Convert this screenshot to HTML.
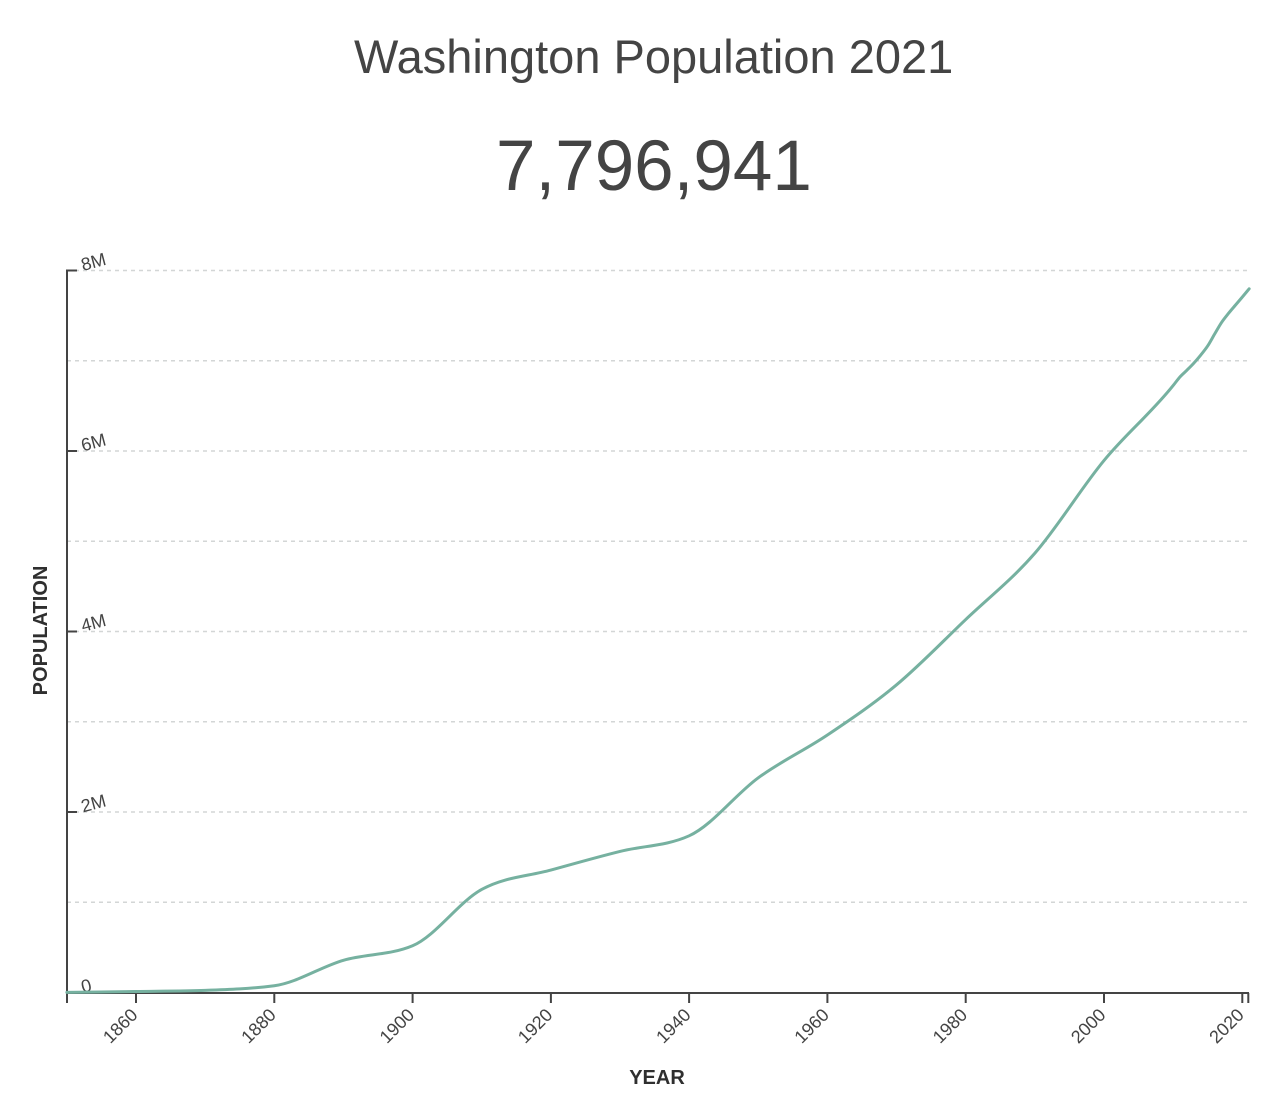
<!DOCTYPE html>
<html>
<head>
<meta charset="utf-8">
<style>
  html, body { margin:0; padding:0; background:#fff; }
  body { width:1270px; height:1098px; overflow:hidden; }
  svg { display:block; }
  .t { font-family:"Liberation Sans", Arial, Helvetica, sans-serif; }
</style>
</head>
<body>
<svg id="chart" width="1270" height="1098" viewBox="0 0 1270 1098" xmlns="http://www.w3.org/2000/svg">
  <rect width="1270" height="1098" fill="#fff"/>
  <!-- Title -->
  <text class="t" x="354" y="73" font-size="47" fill="#444">Washington Population 2021</text>
  <text class="t" x="496" y="190" font-size="71" fill="#444">7,796,941</text>

  <!-- Gridlines -->
  <g stroke="#d3d6d6" stroke-width="1.5" stroke-dasharray="4,4" fill="none">
    <line x1="67" x2="1248" y1="902.25" y2="902.25"/>
    <line x1="67" x2="1248" y1="812" y2="812"/>
    <line x1="67" x2="1248" y1="721.75" y2="721.75"/>
    <line x1="67" x2="1248" y1="631.5" y2="631.5"/>
    <line x1="67" x2="1248" y1="541.25" y2="541.25"/>
    <line x1="67" x2="1248" y1="451" y2="451"/>
    <line x1="67" x2="1248" y1="360.75" y2="360.75"/>
    <line x1="67" x2="1248" y1="270.5" y2="270.5"/>
  </g>

  <!-- Y axis -->
  <g stroke="#444" stroke-width="2" fill="none">
    <line x1="67" x2="67" y1="269.5" y2="1003"/>
    <line x1="66" x2="77" y1="270.5" y2="270.5"/>
    <line x1="66" x2="77" y1="451" y2="451"/>
    <line x1="66" x2="77" y1="631.5" y2="631.5"/>
    <line x1="66" x2="77" y1="812" y2="812"/>
    <line x1="66" x2="77" y1="992.5" y2="992.5"/>
  </g>
  <g class="t" font-size="18" fill="#444">
    <text x="83" y="271" transform="rotate(-15 83 271)">8M</text>
    <text x="83" y="451.5" transform="rotate(-15 83 451.5)">6M</text>
    <text x="83" y="632" transform="rotate(-15 83 632)">4M</text>
    <text x="83" y="812.5" transform="rotate(-15 83 812.5)">2M</text>
    <text x="83" y="993" transform="rotate(-15 83 993)">0</text>
  </g>

  <!-- X axis -->
  <g stroke="#444" stroke-width="2" fill="none">
    <line x1="66" x2="1249" y1="993" y2="993"/>
    <line x1="67" x2="67" y1="993" y2="1003"/>
    <line x1="136" x2="136" y1="993" y2="1003"/>
    <line x1="274.3" x2="274.3" y1="993" y2="1003"/>
    <line x1="412.6" x2="412.6" y1="993" y2="1003"/>
    <line x1="550.9" x2="550.9" y1="993" y2="1003"/>
    <line x1="689.1" x2="689.1" y1="993" y2="1003"/>
    <line x1="827.4" x2="827.4" y1="993" y2="1003"/>
    <line x1="965.7" x2="965.7" y1="993" y2="1003"/>
    <line x1="1104" x2="1104" y1="993" y2="1003"/>
    <line x1="1242.3" x2="1242.3" y1="993" y2="1003"/>
    <line x1="1248.3" x2="1248.3" y1="993" y2="1003"/>
  </g>
  <g class="t" font-size="18" fill="#444" text-anchor="end">
    <text x="138.7" y="1016" transform="rotate(-45 138.7 1016)">1860</text>
    <text x="277" y="1016" transform="rotate(-45 277 1016)">1880</text>
    <text x="415.3" y="1016" transform="rotate(-45 415.3 1016)">1900</text>
    <text x="553.6" y="1016" transform="rotate(-45 553.6 1016)">1920</text>
    <text x="691.8" y="1016" transform="rotate(-45 691.8 1016)">1940</text>
    <text x="830.1" y="1016" transform="rotate(-45 830.1 1016)">1960</text>
    <text x="968.4" y="1016" transform="rotate(-45 968.4 1016)">1980</text>
    <text x="1106.7" y="1016" transform="rotate(-45 1106.7 1016)">2000</text>
    <text x="1245" y="1016" transform="rotate(-45 1245 1016)">2020</text>
  </g>

  <!-- Axis titles -->
  <text class="t" x="657" y="1084" font-size="20" font-weight="bold" fill="#2f2f2f" text-anchor="middle">YEAR</text>
  <text class="t" x="0" y="0" font-size="20" font-weight="bold" fill="#2f2f2f" text-anchor="middle" transform="translate(47 630.5) rotate(-90)">POPULATION</text>

  <!-- Data line -->
  <path id="line" fill="none" stroke="#76b1a0" stroke-width="3" stroke-linejoin="round" stroke-linecap="round"
    d="M66.9,992.4 L136,991.5 L205.1,990.3 L274.3,985.7 L343.4,960.3 L412.6,945.7 L481.7,889.4 L550.9,870.1 L620,851.4 L689.1,835.8 L758.3,777.8 L827.4,735.0 L896.6,684.8 L965.7,619.6 L1034.9,553.3 L1104,460.6 L1173.2,385.6 L1180.1,376.8 L1187,370.2 L1193.9,363.1 L1200.8,355.1 L1207.8,346.0 L1214.7,334.2 L1221.6,322.5 L1228.5,313.5 L1235.4,305.3 L1242.3,297.1 L1249.2,288.8"/>
</svg>
<script>
(function(){
  var data = [
    [1850,1201],[1860,11594],[1870,23955],[1880,75116],[1890,357232],[1900,518103],
    [1910,1141990],[1920,1356621],[1930,1563396],[1940,1736191],[1950,2378963],
    [1960,2853214],[1970,3409169],[1980,4132156],[1990,4866692],[2000,5894121],
    [2010,6724540],[2011,6821481],[2012,6895318],[2013,6973742],[2014,7063166],
    [2015,7163657],[2016,7294771],[2017,7423362],[2018,7523869],[2019,7614893],
    [2020,7705281],[2021,7796941]
  ];
  function X(yr){ return 66.86 + (yr-1850)*6.914; }
  function Y(v){ return 992.5 - v/1e6*90.25; }
  var p = data.map(function(d){ return [X(d[0]), Y(d[1])]; });
  var n = p.length;
  function sign(v){ return v<0?-1:1; }
  var t = new Array(n);
  for (var i=1;i<n-1;i++){
    var x0=p[i-1][0],y0=p[i-1][1],x1=p[i][0],y1=p[i][1],x2=p[i+1][0],y2=p[i+1][1];
    var h0=x1-x0,h1=x2-x1,s0=(y1-y0)/h0,s1=(y2-y1)/h1,pp=(s0*h1+s1*h0)/(h0+h1);
    t[i]=(sign(s0)+sign(s1))*Math.min(Math.abs(s0),Math.abs(s1),0.5*Math.abs(pp))||0;
  }
  t[0]=(3*(p[1][1]-p[0][1])/(p[1][0]-p[0][0]) - t[1])/2;
  t[n-1]=(3*(p[n-1][1]-p[n-2][1])/(p[n-1][0]-p[n-2][0]) - t[n-2])/2;
  var d="M"+p[0][0].toFixed(2)+","+p[0][1].toFixed(2);
  for (var j=0;j<n-1;j++){
    var a=p[j],b=p[j+1],dx=(b[0]-a[0])/3;
    d+="C"+(a[0]+dx).toFixed(2)+","+(a[1]+dx*t[j]).toFixed(2)+","+
         (b[0]-dx).toFixed(2)+","+(b[1]-dx*t[j+1]).toFixed(2)+","+
         b[0].toFixed(2)+","+b[1].toFixed(2);
  }
  document.getElementById("line").setAttribute("d", d);
})();
</script>
</body>
</html>
